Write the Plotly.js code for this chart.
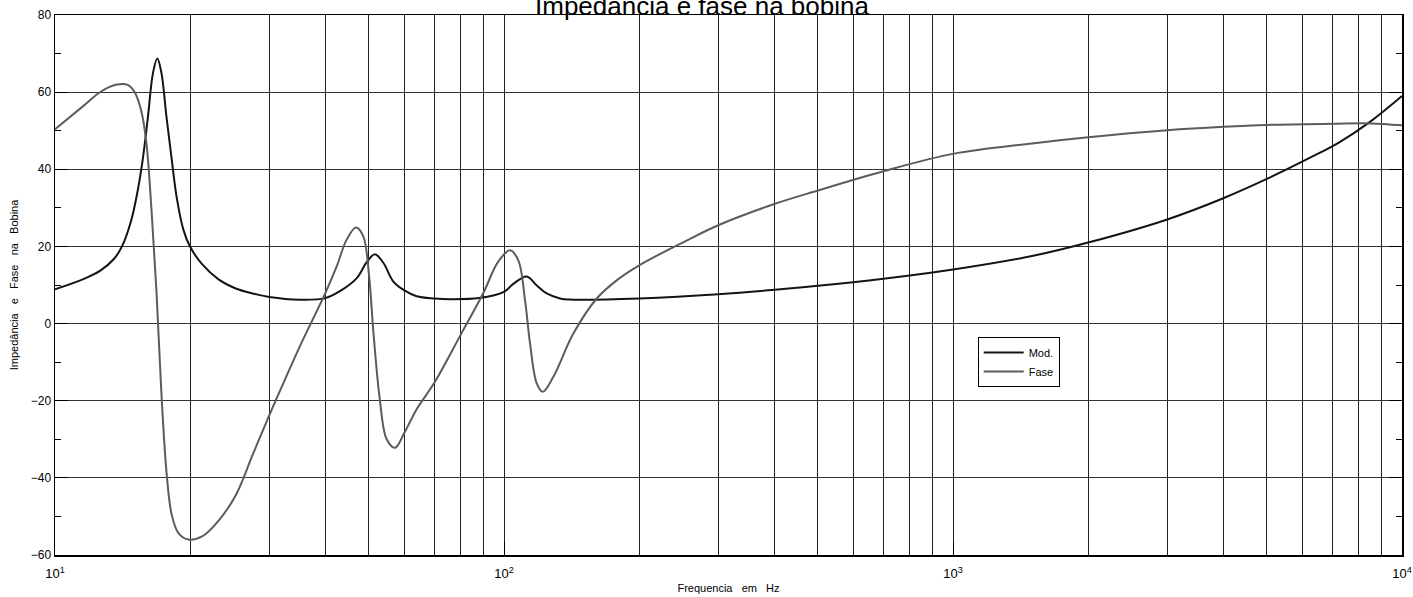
<!DOCTYPE html>
<html>
<head>
<meta charset="utf-8">
<script src="https://cdn.plot.ly/plotly-3.0.1.min.js"></script>
<style>html,body{margin:0;padding:0;background:#fff;}#chart{width:1413px;height:597px;}</style>
</head>
<body>
<div id="chart"></div>
<script>
// Mod. (impedance magnitude) series
const modFreq = [10, 11.6, 12.64, 13.54, 14.1, 14.77, 15.29, 15.69, 16.1, 16.53, 16.9, 17.26, 17.72, 18.19, 18.66, 19.32, 20, 21.26, 23.17, 25.27, 27.56, 30, 35.1, 40, 43.1, 47, 49.5, 51.6, 53.9, 56.7, 60, 63.9, 70, 76, 88, 100, 104.9, 112.3, 118.3, 124.5, 133.3, 142.7, 200, 300, 500, 700, 1000, 1500, 2000, 3000, 4000, 5000, 6240, 7250, 8530, 10000];
const modVals = [8.9, 11.6, 13.8, 16.8, 20.0, 26.6, 34.6, 42.7, 53.4, 65, 68.7, 65, 53.4, 42.7, 32.8, 24.3, 19.9, 15.4, 11.4, 9.1, 7.8, 6.9, 6.2, 6.6, 8.4, 11.8, 16, 18, 15.7, 10.9, 8.6, 7.1, 6.5, 6.3, 6.6, 8.2, 10.3, 12.2, 9.9, 7.8, 6.5, 6.2, 6.5, 7.6, 9.8, 11.6, 14, 17.5, 21, 27, 32.5, 37.5, 43, 47, 52.5, 59];

// Fase (phase) series
const faseFreq = [10, 11.59, 12.64, 13.66, 14.51, 15.03, 15.56, 15.97, 16.39, 16.82, 17.26, 17.72, 18.19, 18.83, 19.83, 21.26, 23.17, 25.27, 27.56, 30, 32.3, 35.1, 40, 42.4, 44.6, 46.8, 48.6, 50, 51.2, 52.9, 54.8, 57.2, 60, 63.9, 70, 80, 90, 97, 103.1, 107.6, 111.4, 114.3, 118.3, 122, 128.8, 142.7, 160.9, 178.2, 200, 250, 300, 400, 500, 700, 1000, 1500, 2000, 3000, 4000, 5000, 7000, 8500, 10000];
const faseVals = [50.4, 56.5, 60.1, 61.9, 61.9, 60.1, 55.2, 47.1, 30.1, 8.7, -18.2, -38.7, -49.5, -54.3, -56.0, -55.2, -51.0, -44.5, -34.0, -23.8, -15.3, -5.9, 7.9, 14.8, 21.7, 24.9, 22.6, 13.1, -2.4, -19.7, -30, -32.2, -28.3, -22.2, -15.3, -3, 8, 16, 19, 16.4, 6, -5.2, -15.5, -17.7, -13.8, -2.6, 6.5, 11.2, 15.1, 21, 25.5, 31, 34.5, 39.5, 44, 46.7, 48.3, 50.1, 51, 51.5, 51.8, 51.9, 51.4];

const xTickVals = [10, 100, 1000, 10000];
const xTickText = ['10<sup>1</sup>', '10<sup>2</sup>', '10<sup>3</sup>', '10<sup>4</sup>'];

const titleText = 'Impedância e fase na bobina';
const xTitle = 'Frequencia\u00a0\u00a0\u00a0em\u00a0\u00a0\u00a0Hz';
const yTitle = 'Impedância\u00a0\u00a0\u00a0e\u00a0\u00a0\u00a0Fase\u00a0\u00a0\u00a0na\u00a0\u00a0\u00a0Bobina';

const FONT = 'Arial, "Liberation Sans", Helvetica, sans-serif';

const traces = [
  {x: modFreq, y: modVals, name: 'Mod.', mode: 'lines', line: {color: '#141414', width: 2, shape: 'spline', smoothing: 1}},
  {x: faseFreq, y: faseVals, name: 'Fase', mode: 'lines', line: {color: '#5c5c5c', width: 2, shape: 'spline', smoothing: 1}}
];

const layout = {
  width: 1413, height: 597,
  margin: {l: 55, r: 11, t: 15, b: 42, pad: 0},
  paper_bgcolor: '#fff', plot_bgcolor: '#fff',
  font: {family: FONT, color: '#000', size: 12},
  title: {text: titleText, font: {family: FONT, size: 26, color: '#000'}, xref: 'container', x: 535/1413, xanchor: 'left', yref: 'container', y: 0.990, yanchor: 'middle'},
  showlegend: true,
  legend: {x: 0.685, y: 0.4037, xanchor: 'left', yanchor: 'top', bgcolor: '#fff', bordercolor: '#000', borderwidth: 1, font: {family: FONT, size: 11, color: '#000'}, itemwidth: 40, tracegroupgap: 0},
  xaxis: {
    type: 'log', range: [1, 4],
    tickvals: xTickVals, ticktext: xTickText,
    showgrid: true, gridcolor: '#222', gridwidth: 1,
    minor: {dtick: 'D1', showgrid: true, gridcolor: '#222', gridwidth: 1, ticks: ''},
    showline: true, linecolor: '#000', linewidth: 1.5, mirror: true,
    ticks: 'inside', ticklen: 13, tickcolor: '#000',
    ticklabelstandoff: 6,
    zeroline: false,
    tickfont: {family: FONT, size: 13},
    title: {text: xTitle, font: {family: FONT, size: 11}, standoff: 4}
  },
  yaxis: {
    range: [-60, 80], tick0: 0, dtick: 20,
    showgrid: true, gridcolor: '#333', gridwidth: 1,
    minor: {dtick: 10, ticks: 'inside', ticklen: 6, tickcolor: '#000', showgrid: false},
    showline: true, linecolor: '#000', linewidth: 1.5, mirror: 'ticks',
    ticks: 'inside', ticklen: 13, tickcolor: '#000',
    zeroline: false,
    tickfont: {family: FONT, size: 12},
    title: {text: yTitle, font: {family: FONT, size: 11}, standoff: 10}
  }
};

Plotly.newPlot('chart', traces, layout, {displayModeBar: false, staticPlot: true});
</script>
</body>
</html>
